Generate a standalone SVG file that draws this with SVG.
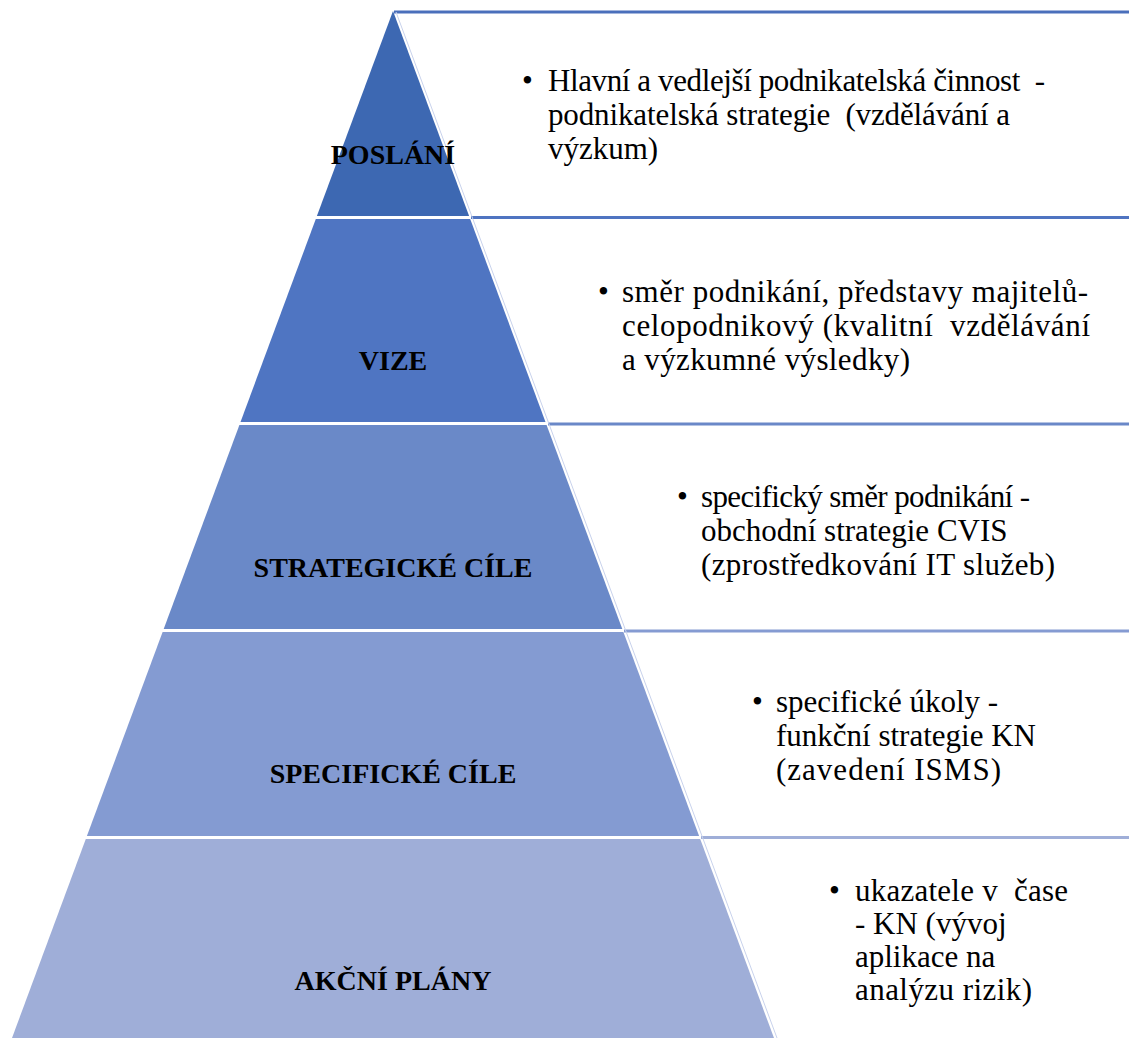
<svg xmlns="http://www.w3.org/2000/svg" width="1129" height="1039" viewBox="0 0 1129 1039">
<style>
.lbl{font-family:"Liberation Serif","Times New Roman",serif;font-weight:bold;font-size:28px;fill:#000;text-anchor:middle}
.txt{font-family:"Liberation Serif","Times New Roman",serif;font-size:31px;fill:#000;white-space:pre}
.sep{stroke-width:3;fill:none}
.edge{stroke:#c8d2ec;stroke-width:1;fill:none}
</style>
<rect width="1129" height="1039" fill="#ffffff"/>
<g id="connectors">
<line class="sep" x1="394" y1="12" x2="1129" y2="12" stroke="#4a6fbb"/>
<line class="sep" x1="471" y1="217.5" x2="1129" y2="217.5" stroke="#4f74c1"/>
<line class="sep" x1="548" y1="424" x2="1129" y2="424" stroke="#6a88c8"/>
<line class="sep" x1="624" y1="631" x2="1129" y2="631" stroke="#859bd2"/>
<line class="sep" x1="701" y1="837.5" x2="1129" y2="837.5" stroke="#9faed8"/>
<line class="edge" x1="396" y1="12" x2="777" y2="1038"/>
</g>
<g id="band1">
<polygon points="393,11 469.1,216 316.9,216" fill="#3d68b2"/>
<text class="lbl" x="393" y="164">POSLÁNÍ</text>
<text class="txt" x="522" y="91">•</text>
<text class="txt" x="548" y="91" xml:space="preserve" textLength="497" lengthAdjust="spacing">Hlavní a vedlejší podnikatelská činnost  -</text>
<text class="txt" x="548" y="125" xml:space="preserve" textLength="462" lengthAdjust="spacing">podnikatelská strategie  (vzdělávání a</text>
<text class="txt" x="548" y="159">výzkum)</text>
</g>
<g id="band2">
<polygon points="315.8,219 470.2,219 545.5,422 240.5,422" fill="#4f75c2"/>
<text class="lbl" x="393" y="370">VIZE</text>
<text class="txt" x="598" y="302">•</text>
<text class="txt" x="622" y="302" textLength="466" lengthAdjust="spacing">směr podnikání, představy majitelů-</text>
<text class="txt" x="622" y="336" xml:space="preserve" textLength="468" lengthAdjust="spacing">celopodnikový (kvalitní  vzdělávání</text>
<text class="txt" x="622" y="370" textLength="288" lengthAdjust="spacing">a výzkumné výsledky)</text>
</g>
<g id="band3">
<polygon points="239.4,425 546.6,425 622.3,629 163.7,629" fill="#6a89c8"/>
<text class="lbl" x="393" y="577">STRATEGICKÉ CÍLE</text>
<text class="txt" x="677" y="507">•</text>
<text class="txt" x="701" y="507" textLength="329" lengthAdjust="spacing">specifický směr podnikání -</text>
<text class="txt" x="701" y="541">obchodní strategie CVIS</text>
<text class="txt" x="701" y="575" textLength="354" lengthAdjust="spacing">(zprostředkování IT služeb)</text>
</g>
<g id="band4">
<polygon points="162.6,632 623.4,632 699.1,836 86.9,836" fill="#849bd2"/>
<text class="lbl" x="393" y="783">SPECIFICKÉ CÍLE</text>
<text class="txt" x="752" y="712">•</text>
<text class="txt" x="776" y="712">specifické úkoly -</text>
<text class="txt" x="776" y="746">funkční strategie KN</text>
<text class="txt" x="776" y="780" textLength="225" lengthAdjust="spacing">(zavedení ISMS)</text>
</g>
<g id="band5">
<polygon points="85.8,839 700.2,839 774,1038 12,1038" fill="#9faed8"/>
<text class="lbl" x="393" y="990">AKČNÍ PLÁNY</text>
<text class="txt" x="829" y="901">•</text>
<text class="txt" x="855" y="901" xml:space="preserve" textLength="213" lengthAdjust="spacing">ukazatele v  čase</text>
<text class="txt" x="855" y="934">- KN (vývoj</text>
<text class="txt" x="855" y="967">aplikace na</text>
<text class="txt" x="855" y="1000" textLength="177" lengthAdjust="spacing">analýzu rizik)</text>
</g>
</svg>
